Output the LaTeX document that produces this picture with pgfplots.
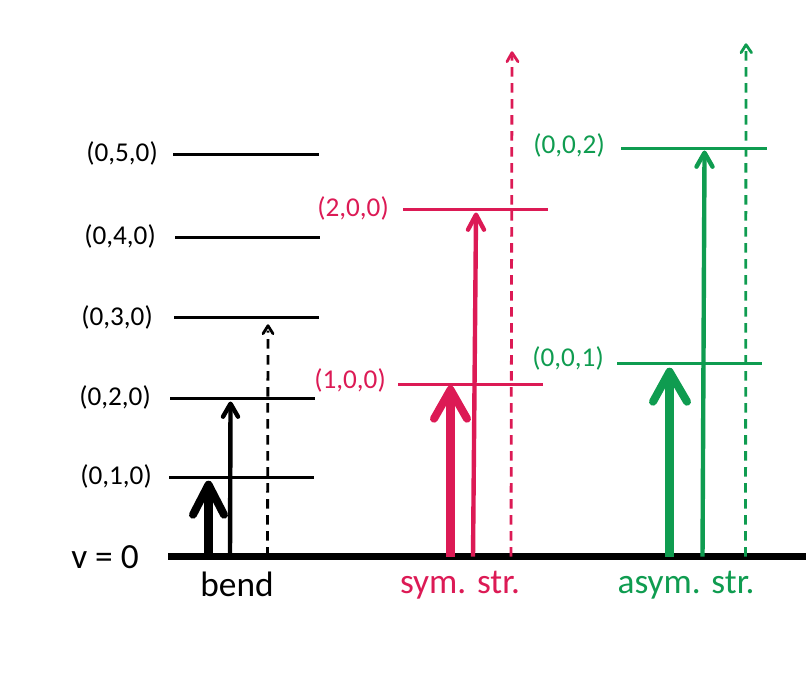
\documentclass[border=0pt]{standalone}
\usepackage{fontspec}
\setmainfont{Carlito}
\usepackage{pgfplots}
\pgfplotsset{compat=1.18}
\definecolor{cred}{HTML}{DC1A55}
\definecolor{cgreen}{HTML}{0F9C50}
\pgfplotsset{
 px/.style={line width=#1*0.75pt},
 head/.style={line cap=round,line join=round},
 dsh/.style={dash pattern=on 7.2pt off 4.8pt},
}
\newcommand{\lab}[4]{\node[text=#1,font=\fontsize{#4}{#4}\selectfont,inner sep=0pt,anchor=center] at (axis cs:#2) {#3};}
\begin{document}
\begin{tikzpicture}
\path[use as bounding box] (0,0) rectangle (604.5pt,505.5pt);
\begin{axis}[
 at={(0,0)},anchor=south west,
 scale only axis,width=604.5pt,height=505.5pt,
 xmin=0,xmax=806,ymin=-0.7,ymax=673.3,y dir=reverse,
 hide axis,
 every axis plot/.append style={mark=none},
]
% bend levels
\addplot[black,px=3.4] coordinates {(173,154)(319,154)};
\addplot[black,px=3.4] coordinates {(175,237)(320,237)};
\addplot[black,px=3.4] coordinates {(174,316.5)(319,316.5)};
\addplot[black,px=3.4] coordinates {(170,397.5)(315,397.5)};
\addplot[black,px=3.4] coordinates {(169,476.5)(314,476.5)};
% red levels
\addplot[cred,px=3.4] coordinates {(398,384)(543,384)};
\addplot[cred,px=3.4] coordinates {(403,209)(548,209)};
% green levels
\addplot[cgreen,px=3.4] coordinates {(617,363)(762,363)};
\addplot[cgreen,px=3.4] coordinates {(621,148)(767,148)};
% ground
\addplot[black,px=6.5] coordinates {(168,556)(806,556)};
% bend arrows
\addplot[black,px=9] coordinates {(208.5,556)(208.5,490)};
\addplot[black,px=8,head] coordinates {(193,514)(208.5,484)(224,514)};
\addplot[black,px=4.4] coordinates {(230,556)(230.5,405)};
\addplot[black,px=4.4,head] coordinates {(223,416)(230.5,403)(238,416)};
\addplot[black,px=2.8,dsh] coordinates {(267.5,556)(268,330)};
\addplot[black,px=2.8,head] coordinates {(263,333)(268,325)(273,333)};
% red arrows
\addplot[cred,px=9.5] coordinates {(450.5,556)(450.5,395)};
\addplot[cred,px=8,head] coordinates {(434,418)(450.5,389)(467,418)};
\addplot[cred,px=4.4] coordinates {(473,556)(476,216)};
\addplot[cred,px=4.4,head] coordinates {(468,229)(476,214)(484,229)};
\addplot[cred,px=2.8,dsh] coordinates {(511,556)(512,55)};
\addplot[cred,px=2.8,head] coordinates {(507,61)(512,52)(518,61)};
% green arrows
\addplot[cgreen,px=9.5] coordinates {(669.5,556)(669.5,378)};
\addplot[cgreen,px=8,head] coordinates {(653,401)(669.5,371)(687,401)};
\addplot[cgreen,px=4.4] coordinates {(702.5,556)(704.5,154)};
\addplot[cgreen,px=4.4,head] coordinates {(696.5,166)(704.5,152)(712.5,166)};
\addplot[cgreen,px=2.8,dsh] coordinates {(745.5,556)(746,47)};
\addplot[cgreen,px=2.8,head] coordinates {(741,52)(746,44)(751.5,52)};
% labels
\lab{black}{122,152.5}{(0,5,0)}{20.4}
\lab{black}{120,235.5}{(0,4,0)}{20.4}
\lab{black}{117,316.5}{(0,3,0)}{20.4}
\lab{black}{115,396.5}{(0,2,0)}{20.4}
\lab{black}{116,475.5}{(0,1,0)}{20.4}
\lab{black}{105,556}{v = 0}{26.5}
\lab{black}{237,584}{bend}{26.5}
\lab{cred}{460,584}{sym. str.}{26.5}
\lab{cgreen}{686,584}{asym. str.}{26.5}
\lab{cred}{350,379.5}{(1,0,0)}{20.4}
\lab{cred}{353,207.5}{(2,0,0)}{20.4}
\lab{cgreen}{568,357.5}{(0,0,1)}{20.4}
\lab{cgreen}{569,144.5}{(0,0,2)}{20.4}
\end{axis}
\end{tikzpicture}
\end{document}
